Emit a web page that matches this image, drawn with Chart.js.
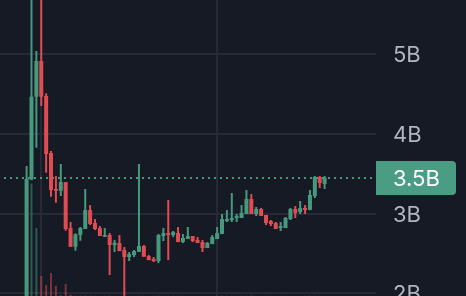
<!DOCTYPE html>
<html>
<head>
<meta charset="utf-8">
<script src="https://cdn.jsdelivr.net/npm/chart.js@4.4.1/dist/chart.umd.min.js"></script>
<style>
  html, body { margin: 0; padding: 0; background: #161a25; overflow: hidden; }
  #wrap { width: 466px; height: 296px; }
</style>
</head>
<body>
<div id="wrap"><canvas id="c" width="466" height="296"></canvas></div>
<script>
// ---- data (values in billions) ----
const candleIndex = Array.from({length: 62}, (_, i) => i);
const opens  = [1.5, 3.43, 4.468, 4.916, 4.477, 3.761, 3.309, 3.288, 3.397, 2.819, 2.584, 2.731, 2.807, 3.045, 2.882, 2.819, 2.710, 2.731, 2.606, 2.631, 2.543, 2.455, 2.480, 2.521, 2.593, 2.467, 2.430, 2.405, 2.719, 2.756, 2.731, 2.756, 2.643, 2.681, 2.719, 2.669, 2.643, 2.568, 2.618, 2.681, 2.744, 2.907, 2.920, 2.945, 2.945, 2.995, 3.184, 2.995, 3.058, 2.983, 2.907, 2.882, 2.819, 2.819, 2.932, 3.058, 3.020, 3.071, 3.045, 3.221, 3.460, 3.372];
const highs  = [3.598, 6.2, 5.042, 6.2, 4.511, 3.786, 3.472, 3.623, 3.397, 2.895, 2.753, 2.832, 3.309, 3.108, 2.932, 2.844, 2.819, 2.756, 2.669, 2.731, 2.581, 2.518, 2.543, 3.623, 2.606, 2.480, 2.455, 2.744, 2.819, 3.171, 2.782, 2.832, 2.744, 2.832, 2.719, 2.706, 2.669, 2.643, 2.731, 2.832, 2.995, 3.045, 3.259, 2.995, 3.108, 3.297, 3.246, 3.083, 3.071, 2.983, 2.920, 2.895, 2.895, 2.958, 3.071, 3.096, 3.159, 3.108, 3.297, 3.472, 3.472, 3.472];
const lows   = [1.5, 3.42, 3.828, 4.351, 3.514, 3.213, 3.137, 3.221, 2.785, 2.584, 2.534, 2.660, 2.807, 2.857, 2.794, 2.719, 2.706, 2.229, 2.518, 2.530, 1.8, 2.405, 2.455, 2.521, 2.459, 2.417, 2.392, 2.379, 2.656, 2.417, 2.706, 2.643, 2.631, 2.681, 2.643, 2.631, 2.518, 2.568, 2.618, 2.681, 2.744, 2.895, 2.895, 2.895, 2.945, 2.995, 2.995, 2.970, 2.970, 2.857, 2.844, 2.807, 2.782, 2.819, 2.920, 2.945, 2.995, 2.995, 3.045, 3.196, 3.322, 3.309];
const closes = [3.435, 4.468, 4.916, 4.468, 3.749, 3.297, 3.288, 3.397, 2.807, 2.584, 2.740, 2.819, 3.045, 2.870, 2.807, 2.719, 2.731, 2.606, 2.635, 2.530, 2.455, 2.493, 2.530, 2.593, 2.459, 2.417, 2.405, 2.731, 2.756, 2.731, 2.769, 2.643, 2.694, 2.719, 2.656, 2.631, 2.568, 2.631, 2.706, 2.756, 2.932, 2.932, 2.945, 2.970, 3.008, 3.184, 2.995, 3.058, 2.970, 2.882, 2.870, 2.807, 2.844, 2.945, 3.058, 3.008, 3.071, 3.045, 3.234, 3.460, 3.385, 3.452];
const volumes = [35, 38, 23, 6.8, 3.7, 7.8, 3.4, 0.3, 4.1, 0.4, 0.1, 0.1, 0.15, 0.1, 0.05, 0.05, 0.05, 0.1, 0.05, 0.05, 0.1, 0.05, 0.05, 0.1, 0.05, 0.05, 0.05, 0.1, 0.05, 0.1, 0.05, 0.05, 0.05, 0.05, 0.05, 0.05, 0.05, 0.05, 0.05, 0.05, 0.1, 0.05, 0.1, 0.05, 0.05, 0.1, 0.1, 0.05, 0.05, 0.05, 0.05, 0.05, 0.05, 0.05, 0.05, 0.05, 0.05, 0.05, 0.1, 0.1, 0.05, 0.05];
const yTicks = [2, 3, 4, 5];
const timeGridAt = [3, 39];

// ---- style ----
const BG = '#161a25';
const GRID = '#262a36';
const UP = '#47997e';
const DOWN = '#df4c52';
const UP_VOL = 'rgba(71,153,126,0.5)';
const DOWN_VOL = 'rgba(223,76,82,0.5)';
const LABEL_BG = '#4a9c82';
const AXIS_TXT = '#b2b5be';
const FONT = 'Inter';

const isUp = closes.map((c, i) => c >= opens[i]);

const bgPlugin = {
  id: 'bg',
  beforeDraw(chart) {
    const ctx = chart.ctx;
    ctx.save();
    ctx.fillStyle = BG;
    ctx.fillRect(0, 0, chart.width, chart.height);
    ctx.restore();
  }
};

// right price-axis labels (drawn as text, positioned from the y scale)
const axisLabelPlugin = {
  id: 'axisLabels',
  afterDraw(chart) {
    const {ctx, chartArea, scales} = chart;
    ctx.save();
    ctx.fillStyle = AXIS_TXT;
    ctx.font = '22px ' + FONT;
    ctx.textAlign = 'left';
    ctx.textBaseline = 'alphabetic';
    yTicks.forEach(v => {
      const py = scales.y.getPixelForValue(v);
      ctx.fillText(v + 'B', chartArea.right + 17, Math.round(py) + 8);
    });
    ctx.restore();
  }
};

const lastPricePlugin = {
  id: 'lastPrice',
  beforeDatasetsDraw(chart) {
    const {ctx, chartArea, scales} = chart;
    const py = Math.round(scales.y.getPixelForValue(closes[closes.length - 1]));
    ctx.save();
    ctx.strokeStyle = isUp[isUp.length - 1] ? UP : DOWN;
    ctx.lineWidth = 2;
    ctx.setLineDash([2, 4]);
    ctx.beginPath();
    ctx.moveTo(chartArea.left + 4, py);
    ctx.lineTo(chartArea.right, py);
    ctx.stroke();
    ctx.restore();
  },
  afterDraw(chart) {
    const {ctx, chartArea, scales} = chart;
    const last = closes[closes.length - 1];
    const py = Math.round(scales.y.getPixelForValue(last));
    const x0 = chartArea.right, x1 = chartArea.right + 80, h = 34, r = 4;
    const y0 = py - h / 2, y1 = py + h / 2;
    ctx.save();
    ctx.fillStyle = LABEL_BG;
    ctx.beginPath();
    ctx.moveTo(x0, y0);
    ctx.lineTo(x1 - r, y0);
    ctx.quadraticCurveTo(x1, y0, x1, y0 + r);
    ctx.lineTo(x1, y1 - r);
    ctx.quadraticCurveTo(x1, y1, x1 - r, y1);
    ctx.lineTo(x0, y1);
    ctx.closePath();
    ctx.fill();
    ctx.fillStyle = '#ffffff';
    ctx.font = '22px ' + FONT;
    ctx.textAlign = 'left';
    ctx.textBaseline = 'alphabetic';
    ctx.fillText(last.toFixed(1) + 'B', chartArea.right + 17, py + 8);
    ctx.restore();
  }
};

const barCommon = { grouped: false, borderWidth: 0, inflateAmount: 0, xAxisID: 'x' };

new Chart(document.getElementById('c'), {
  type: 'bar',
  data: {
    datasets: [
      Object.assign({}, barCommon, {
        label: 'body',
        order: 0,
        yAxisID: 'y',
        barThickness: 4,
        minBarLength: 1,
        data: candleIndex.map(i => ({x: i, y: [opens[i], closes[i]]})),
        backgroundColor: isUp.map(u => u ? UP : DOWN)
      }),
      Object.assign({}, barCommon, {
        label: 'wick',
        order: 1,
        yAxisID: 'y',
        barThickness: 2,
        data: candleIndex.map(i => ({x: i, y: [lows[i], highs[i]]})),
        backgroundColor: isUp.map(u => u ? UP : DOWN)
      }),
      Object.assign({}, barCommon, {
        label: 'volume',
        order: 2,
        yAxisID: 'yv',
        barThickness: 2,
        data: candleIndex.map(i => ({x: i, y: volumes[i]})),
        backgroundColor: isUp.map(u => u ? UP_VOL : DOWN_VOL)
      })
    ]
  },
  options: {
    responsive: false,
    animation: false,
    devicePixelRatio: 1,
    layout: { padding: 0 },
    plugins: { legend: { display: false }, tooltip: { enabled: false } },
    scales: {
      x: {
        type: 'linear',
        min: -5.445,
        max: 71.52,
        offset: false,
        afterBuildTicks(scale) { scale.ticks = timeGridAt.map(v => ({value: v})); },
        grid: { color: GRID, lineWidth: 2, drawTicks: false, offset: false },
        border: { display: false },
        ticks: { display: false }
      },
      y: {
        type: 'linear',
        position: 'right',
        min: 1.9662,
        max: 5.6816,
        afterBuildTicks(scale) { scale.ticks = yTicks.map(v => ({value: v})); },
        afterFit(scale) { scale.width = 90; scale.paddingTop = 0; scale.paddingBottom = 0; },
        grid: { color: GRID, lineWidth: 2, drawTicks: false },
        border: { display: false },
        ticks: { display: false }
      },
      yv: {
        type: 'linear',
        display: false,
        min: 0,
        max: 100
      }
    }
  },
  plugins: [bgPlugin, axisLabelPlugin, lastPricePlugin]
});
</script>
</body>
</html>
